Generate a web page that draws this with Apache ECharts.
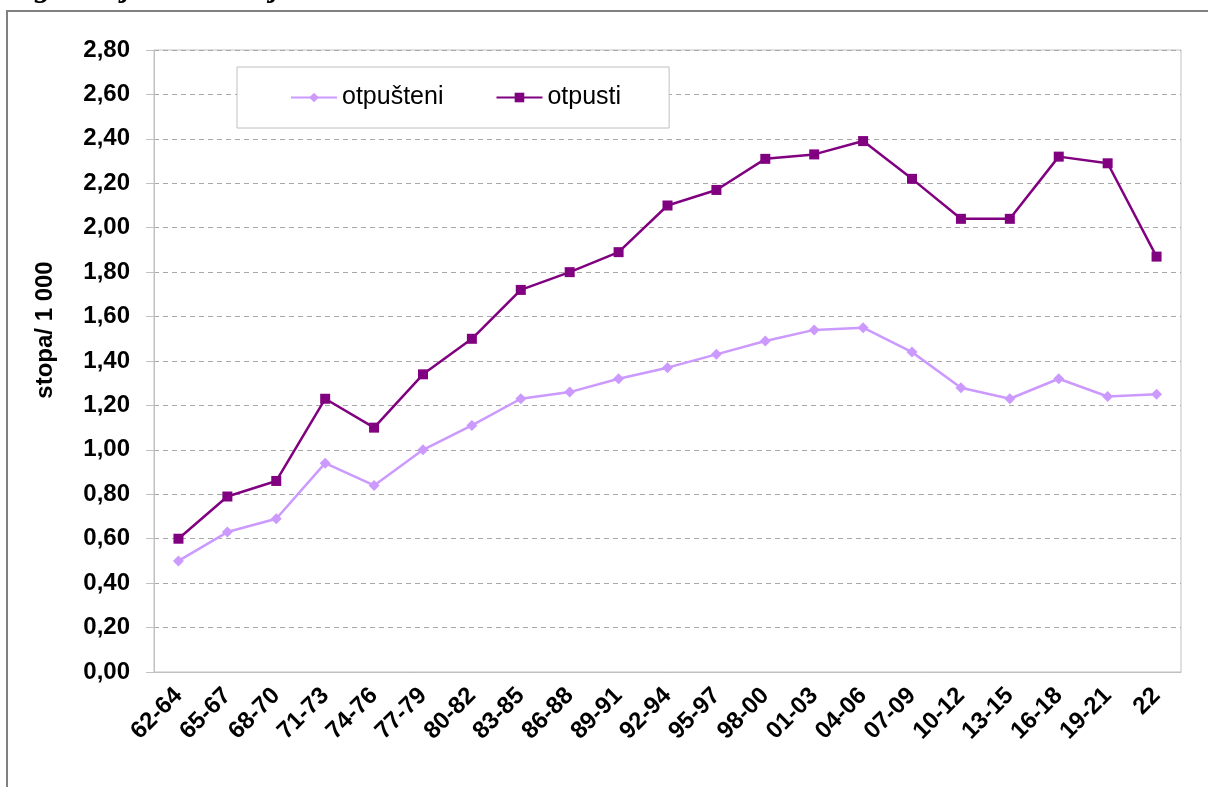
<!DOCTYPE html>
<html>
<head>
<meta charset="utf-8">
<script src="https://cdn.jsdelivr.net/npm/echarts@6/dist/echarts.min.js"></script>
<style>
  html, body { margin: 0; padding: 0; background: #fff; }
  #chart { width: 1208px; height: 787px; }
</style>
</head>
<body>
<div id="chart"></div>
<script>
const periods = ["62-64", "65-67", "68-70", "71-73", "74-76", "77-79", "80-82", "83-85", "86-88", "89-91",
  "92-94", "95-97", "98-00", "01-03", "04-06", "07-09", "10-12", "13-15", "16-18", "19-21", "22"];
const otpusteni = [0.50, 0.63, 0.69, 0.94, 0.84, 1.00, 1.11, 1.23, 1.26, 1.32,
  1.37, 1.43, 1.49, 1.54, 1.55, 1.44, 1.28, 1.23, 1.32, 1.24, 1.25];
const otpusti = [0.60, 0.79, 0.86, 1.23, 1.10, 1.34, 1.50, 1.72, 1.80, 1.89,
  2.10, 2.17, 2.31, 2.33, 2.39, 2.22, 2.04, 2.04, 2.32, 2.29, 1.87];

const font = "'Liberation Sans', Arial, sans-serif";
const chart = echarts.init(document.getElementById("chart"));

chart.setOption({
  backgroundColor: "#fff",
  animation: false,
  grid: {
    left: 154, right: 27, top: 50, bottom: 115,
    show: true, borderColor: "#c0c0c0", borderWidth: 1
  },
  legend: {
    left: 237, top: 67,
    padding: [18, 48, 18, 53],
    itemGap: 52,
    itemWidth: 46, itemHeight: 12,
    backgroundColor: "#fff",
    borderColor: "#c0c0c0", borderWidth: 1,
    textStyle: { fontFamily: font, fontSize: 25, color: "#000" },
    data: ["otpušteni", "otpusti"]
  },
  xAxis: {
    type: "category",
    data: periods,
    boundaryGap: true,
    axisLine: { lineStyle: { color: "#c0c0c0" } },
    axisTick: { length: 8, lineStyle: { color: "#c0c0c0" } },
    axisLabel: {
      rotate: 45, margin: 20, interval: 0,
      fontFamily: font, fontSize: 24, fontWeight: "bold", color: "#000"
    }
  },
  yAxis: {
    type: "value",
    min: 0, max: 2.8, interval: 0.2,
    axisLine: { show: true, lineStyle: { color: "#c0c0c0" } },
    axisTick: { show: true, length: 8, lineStyle: { color: "#c0c0c0" } },
    splitLine: { lineStyle: { color: "#a8a8a8", type: [5, 4] } },
    axisLabel: {
      margin: 24,
      fontFamily: font, fontSize: 24, fontWeight: "bold", color: "#000",
      formatter: v => v.toFixed(2).replace(".", ",")
    }
  },
  graphic: [
    {
      type: "rect", z: 0, silent: true,
      shape: { x: 7, y: 11, width: 1220, height: 800 },
      style: { fill: null, stroke: "#808080", lineWidth: 2 }
    },
    {
      type: "text", z: 10, silent: true,
      x: -2, y: -28,
      style: {
        text: "trogodišnjim razdobljima",
        font: "italic bold 32px 'Liberation Serif', 'Times New Roman', serif",
        fill: "#000", textVerticalAlign: "top"
      }
    },
    {
      type: "text", z: 10, silent: true,
      x: 45, y: 330, rotation: Math.PI / 2,
      style: {
        text: "stopa/ 1 000",
        font: "bold 24px 'Liberation Sans', Arial, sans-serif",
        fill: "#000", textAlign: "center", textVerticalAlign: "middle"
      }
    }
  ],
  series: [
    {
      name: "otpušteni", type: "line", data: otpusteni,
      symbol: "diamond", symbolSize: 11,
      itemStyle: { color: "#cc99ff" },
      lineStyle: { color: "#cc99ff", width: 2.5 }
    },
    {
      name: "otpusti", type: "line", data: otpusti,
      symbol: "rect", symbolSize: 10,
      itemStyle: { color: "#800080" },
      lineStyle: { color: "#800080", width: 2.5 }
    }
  ]
});
</script>
</body>
</html>
